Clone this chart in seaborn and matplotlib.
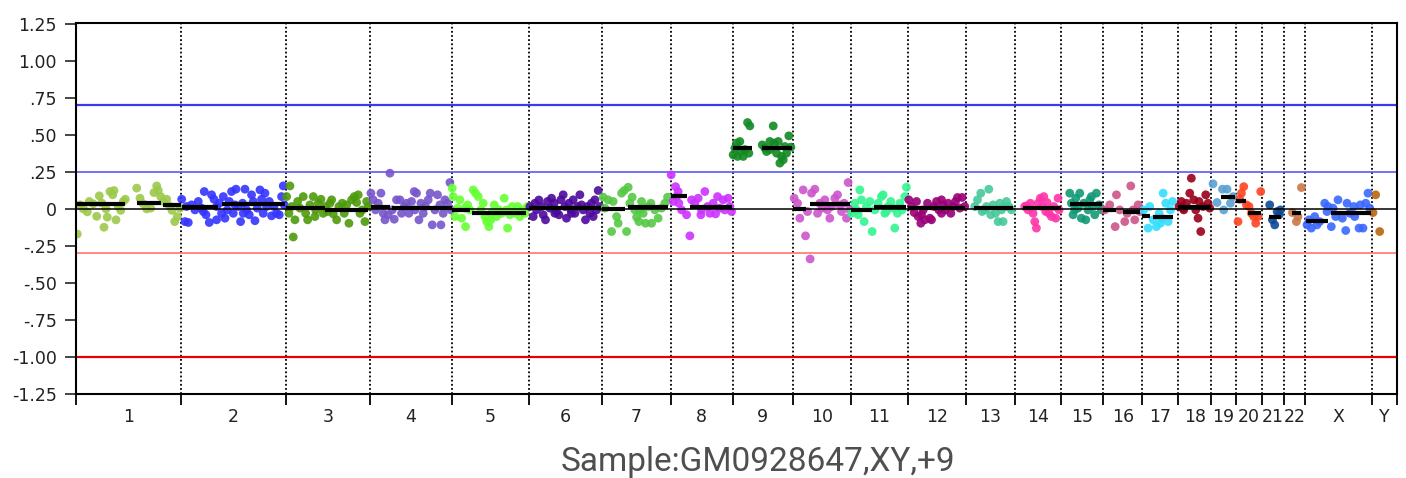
import numpy as np
import pandas as pd
import matplotlib
matplotlib.use("Agg")
import matplotlib.pyplot as plt
import seaborn as sns

# ---------------- data ----------------
chr_labels = ["1", "2", "3", "4", "5", "6", "7", "8", "9", "10", "11", "12",
              "13", "14", "15", "16", "17", "18", "19", "20", "21", "22", "X", "Y"]
chr_lengths = [105.3, 104.4, 84.6, 81.7, 77.3, 72.7, 69.0, 61.7, 60.3, 58.3, 56.4, 58.3,
               49.3, 46.0, 42.4, 39.0, 35.6, 33.4, 24.3, 26.7, 21.3, 21.3, 67.4, 24.6]
chr_colors = ["#9cc94a", "#3434ff", "#4d9a0a", "#7755cc", "#66ff33", "#4d0a9c", "#55c845", "#cc33ff",
              "#128a22", "#cc55cc", "#33f590", "#990077", "#47c99a", "#ff33aa", "#119977", "#cc5588",
              "#33ddff", "#99001a", "#58a2d2", "#ff4422", "#0c4a96", "#cc7744", "#3a68ff", "#b8660f"]

c1_pos = [1.3, 4, 7.3, 11.3, 13.3, 17.3, 20.7, 23.3, 25.7, 28, 30, 31.3, 34, 36.7, 38, 40, 42.3, 44.7, 47.3, 49.3,
          60.7, 64, 67.3, 70.7, 74.7, 78, 80.7, 82.3, 84.7, 87.3, 90.7, 93.3, 96, 98.7, 101.3, 104]
c1_val = [-0.17, 0.027, 0.0, -0.02, 0.05, 0.034, -0.05, 0.088, 0.04, -0.124, 0.0, -0.056, 0.117, 0.095, 0.124, -0.074,
          0.016, -0.01, 0.05, 0.065, 0.14, 0.072, 0.034, 0.0, 0.005, 0.11, 0.155, 0.124, 0.083, 0.05, 0.065, 0.02,
          -0.01, -0.086, -0.052, 0.005]
c2_pos = [0.4, 3.7, 7, 5.3, 10.3, 13.7, 17, 20.3, 23, 24.7, 28, 30.3, 32.7, 35.3, 38, 42, 43.7, 46, 48, 50.3, 52,
          54.7, 57, 59.3, 61.3, 63.7, 65.3, 68, 70.3, 72, 73.7, 76, 78.7, 80.3, 82, 85.3, 88, 90.3, 92.7, 95.3, 98,
          100.3, 102, 103, 22, 40.3, 62, 83.7, 53.7, 35.3]
c2_val = [0.065, -0.086, -0.092, 0.016, 0.027, -0.007, 0.05, 0.005, 0.117, -0.04, -0.092, 0.095, 0.065, 0.016,
          0.038, 0.083, -0.063, -0.007, 0.05, 0.117, -0.03, 0.133, 0.016, -0.086, 0.038, 0.133, -0.007, -0.04,
          0.095, 0.05, -0.08, 0.005, 0.128, 0.065, -0.03, 0.016, 0.05, -0.047, 0.016, -0.03, -0.04, 0.083, 0.155,
          0.027, -0.018, -0.03, -0.03, 0.106, 0.027, -0.074]
c3_pos = [1, 4.3, 3.3, 7.6, 9.3, 12, 14.3, 17.6, 20, 22, 24.3, 27.6, 30, 32.6, 35.3, 37.6, 40, 42, 44.3, 47.6, 51,
          53.3, 56.6, 58.6, 61, 63.3, 66, 68.6, 71, 72.6, 74.3, 76.6, 79.3, 81, 82.6, 6, 46, 29.3]
c3_val = [0.083, 0.155, -0.03, -0.19, -0.074, 0.05, 0.005, 0.083, -0.03, -0.074, 0.027, 0.083, -0.007, 0.038,
          0.065, -0.03, 0.016, -0.018, 0.038, -0.034, -0.074, 0.016, 0.038, -0.03, 0.027, -0.097, 0.061, 0.083,
          0.043, 0.095, -0.03, -0.007, -0.086, 0.05, 0.016, 0.016, 0.061, -0.052]
c4_pos = [0.7, 3, 5.3, 8, 10.7, 13, 14.7, 19.7, 22, 24, 26.3, 29.7, 31.3, 34, 36.3, 38.7, 41.3, 44, 46.3, 48.7,
          50.7, 53, 55.3, 58, 60, 62, 64.7, 67.3, 69.7, 70.7, 73, 74.7, 77.3, 79.7, 80.7, 18, 44.7]
c4_val = [0.106, 0.061, -0.007, 0.038, 0.106, -0.03, -0.074, 0.241, -0.007, -0.07, 0.061, 0.061, -0.03, 0.016,
          0.038, -0.03, 0.05, 0.117, 0.106, -0.074, 0.038, -0.03, 0.016, 0.061, 0.106, -0.108, -0.007, 0.095,
          0.027, -0.108, -0.03, 0.061, 0.038, 0.178, -0.007, -0.04, -0.007]
c5_pos = [0.3, 1.3, 3, 5.7, 8, 9.7, 13.7, 15.7, 18, 21.3, 23.7, 26.3, 29, 31.3, 33, 34.7, 37, 39.7, 42.3, 44.7,
          47, 49.7, 52.3, 54.7, 55.7, 58, 60.3, 63, 65.7, 68, 70.3, 73, 75.7, 13, 39]
c5_val = [0.14, 0.083, -0.052, 0.005, 0.061, -0.063, -0.12, 0.027, -0.007, 0.128, 0.106, 0.083, -0.007, 0.038,
          -0.052, -0.086, -0.12, -0.03, 0.027, -0.052, -0.007, -0.03, 0.072, -0.007, -0.13, -0.04, 0.016, -0.03,
          0.016, -0.052, -0.007, -0.03, 0.016, 0.005, -0.074]
c6_pos = [0.7, 4, 7.3, 9.7, 12.3, 14, 16.3, 18.3, 20.7, 22.3, 25, 27.3, 29.7, 31.7, 34, 35.7, 37.3, 39.7, 41.7,
          44, 45.7, 48.3, 50.7, 52.3, 54, 56.3, 58.3, 60.7, 62.3, 64, 65.7, 67.3, 69, 70.7, 5.7, 25.7, 42.3]
c6_val = [0.016, -0.052, -0.007, 0.06, 0.016, -0.04, -0.074, 0.05, 0.005, 0.072, 0.038, -0.018, -0.04, 0.061,
          0.095, 0.016, -0.063, 0.038, -0.007, 0.061, -0.03, 0.016, 0.095, 0.027, -0.007, -0.074, 0.016, -0.03,
          0.038, -0.052, 0.061, -0.007, 0.124, 0.016, 0.038, -0.03, -0.03]
c7_pos = [1.3, 3, 6.3, 9.7, 11.3, 14.7, 16.3, 19.7, 22.3, 24.7, 26.3, 28, 30.3, 33, 34.7, 37, 39.7, 41.3, 43.7,
          46.3, 49, 49.7, 53, 56.3, 59.7, 63, 65.7, 38]
c7_val = [0.079, 0.005, 0.061, -0.153, 0.05, -0.052, -0.097, 0.106, 0.124, -0.153, 0.146, 0.038, 0.079, -0.007,
          -0.056, -0.086, 0.05, -0.03, -0.097, 0.016, 0.038, -0.097, -0.007, -0.063, 0.005, 0.038, 0.079, -0.007]
c8_pos = [0.3, 2.3, 4.7, 7.3, 8, 10.7, 15.7, 19, 20.7, 24, 27.3, 30, 34, 36.7, 39, 42.3, 44.7, 46.7, 49, 52.3,
          54, 57.3, 59, 60.7, 5.7, 30.7]
c8_val = [0.23, 0.05, 0.15, 0.117, 0.038, -0.007, -0.04, -0.182, 0.061, 0.038, 0.072, -0.04, 0.117, 0.016, -0.03,
          0.038, -0.034, 0.083, 0.005, 0.061, -0.007, 0.072, 0.016, -0.018, 0.083, -0.007]
c9_pos = [0.6, 2.3, 5, 7.3, 8.3, 10.7, 12.3, 15, 17.3, 16.3, 29.7, 32.3, 34, 37.3, 40.7, 41.7, 44, 45.7, 47.3,
          49, 50.7, 52.3, 54, 56.3, 58.3, 4, 37.3]
c9_val = [0.365, 0.41, 0.354, 0.455, 0.387, 0.354, 0.40, 0.583, 0.56, 0.376, 0.432, 0.41, 0.387, 0.455, 0.56,
          0.444, 0.376, 0.455, 0.309, 0.354, 0.331, 0.421, 0.376, 0.493, 0.417, 0.444, 0.40]
c10_pos = [1.3, 4.7, 7, 10.3, 12.7, 14.7, 17.3, 18.7, 22, 24.7, 27, 29.3, 32, 34.7, 37, 38.7, 42, 44.7, 47,
           48.7, 51.3, 53.7, 55.3, 57]
c10_val = [0.072, 0.038, -0.063, 0.128, -0.182, -0.018, -0.338, 0.106, 0.133, -0.03, 0.038, 0.005, 0.061, -0.007,
           -0.063, 0.016, 0.072, 0.095, 0.027, -0.018, 0.038, -0.063, 0.178, -0.007]
c11_pos = [0.4, 3.7, 5.3, 8.7, 10.3, 13, 15.3, 18.7, 21, 23.7, 27, 30.3, 32, 33.7, 37, 39.7, 42, 43.7, 46.3,
           48.7, 51, 53.7, 55.3, 7, 35.3]
c11_val = [-0.03, 0.038, -0.007, 0.128, 0.061, -0.086, 0.016, 0.05, -0.153, -0.007, 0.038, 0.083, 0.095, -0.03,
           0.016, 0.05, 0.005, -0.13, -0.03, 0.038, -0.007, 0.083, 0.146, -0.04, -0.018]
c12_pos = [1.3, 4, 6.7, 9, 10.7, 13.3, 15.7, 17.3, 20, 22.3, 24, 26.7, 29, 31.3, 34, 35.7, 38, 40.7, 43.3, 45.7,
           48, 50, 52.3, 54.7, 57.3, 14, 34]
c12_val = [0.061, 0.016, -0.025, 0.05, -0.052, -0.097, -0.007, -0.074, 0.038, -0.063, -0.074, 0.016, 0.05,
           -0.007, -0.03, 0.027, -0.007, 0.038, -0.03, 0.016, 0.05, 0.077, 0.005, 0.077, 0.016, -0.04, 0.061]
c13_pos = [9, 11.7, 15, 16.3, 19, 20.7, 23, 25, 27.3, 29.7, 32.3, 34, 35.7, 37.3, 39, 40.7, 43, 45.7]
c13_val = [0.016, 0.061, 0.106, -0.018, -0.007, 0.016, 0.133, -0.04, 0.027, -0.03, -0.086, 0.038, -0.007, -0.086,
           0.016, 0.05, 0.016, -0.007]
c14_pos = [9.7, 13, 15.3, 18, 19.7, 21.3, 23, 25.3, 27.3, 28.7, 30.7, 32, 34, 36.3, 38.7, 40.7, 43, 44, 11.3]
c14_val = [0.016, -0.007, 0.038, -0.03, -0.086, -0.13, 0.038, 0.072, 0.016, 0.083, -0.018, 0.043, -0.03, -0.052,
           0.016, -0.063, 0.072, -0.007, 0.02]
c15_pos = [8.7, 10.3, 12, 14.7, 17, 18.7, 20.3, 22.7, 24.7, 27, 28.7, 31.3, 33.7, 35.3, 38, 40.3, 13.7, 30.3]
c15_val = [0.106, 0.038, -0.04, 0.072, 0.005, 0.106, -0.063, 0.038, -0.074, -0.007, 0.061, 0.016, -0.04, 0.106,
           0.027, -0.007, -0.007, 0.083]
c16_pos = [1.3, 6.3, 11.7, 13, 16.3, 21.3, 23.7, 27.3, 29.7, 31.3, 34.7, 36.3]
c16_val = [-0.007, 0.027, -0.12, 0.095, -0.007, -0.086, -0.03, 0.155, -0.007, -0.074, 0.027, -0.018]
c17_pos = [1.3, 5.7, 7.3, 10.7, 14, 16.7, 19, 20.7, 23.3, 25.7, 28, 30, 18]
c17_val = [-0.007, -0.13, 0.016, -0.074, -0.12, -0.03, -0.063, 0.106, 0.038, -0.086, -0.007, 0.05, -0.097]
c18_pos = [1, 3.3, 5.7, 8.3, 11.7, 13.3, 15.7, 17.7, 20, 21, 22.7, 25, 27.7, 30, 31.7, 5]
c18_val = [0.016, 0.05, -0.007, 0.038, 0.106, 0.207, 0.061, -0.007, -0.063, 0.05, -0.153, 0.016, 0.095, 0.038,
           0.005, 0.005]
c19_pos = [1.6, 5.6, 11, 12.3, 15.6, 19, 21.6]
c19_val = [0.169, 0.043, 0.133, -0.007, 0.133, 0.038, 0.083]
c20_pos = [2.3, 5.7, 8, 10.7, 13.3, 15.7, 18, 20, 22.3, 25, 4]
c20_val = [-0.086, 0.106, 0.15, 0.027, 0.016, -0.03, -0.052, -0.097, -0.052, 0.117, 0.065]
c21_pos = [7.3, 10, 12.3, 14.7, 16.7, 18]
c21_val = [0.027, -0.074, -0.108, -0.018, -0.04, -0.007]
c22_pos = [8.7, 12.7, 14.3, 17.7]
c22_val = [-0.025, -0.086, -0.052, 0.144]
cX_pos = [2, 4, 6.3, 9.7, 12, 14.7, 19.7, 22, 26.3, 28, 30.7, 33, 37.3, 40.7, 42, 44.7, 48.7, 49.7, 54, 55.3,
          58, 60.7, 63, 64.7, 23]
cX_val = [-0.108, -0.074, -0.13, -0.052, -0.108, -0.086, 0.038, -0.018, -0.12, 0.005, -0.052, 0.061, -0.063,
          -0.146, 0.038, -0.03, 0.016, -0.052, -0.13, 0.027, -0.13, 0.038, 0.106, 0.005, 0.016]
cY_pos = [3.3, 0.6, 7.3]
cY_val = [0.095, -0.025, -0.153]

# segment means: chromosome label, start offset, end offset, value
seg_chrom = ["1", "1", "1", "2", "2", "3", "3", "4", "4", "5", "5", "6", "7", "7", "8", "8", "9", "9",
             "10", "10", "11", "11", "12", "13", "14", "15", "16", "16", "17", "17", "18", "19", "20", "20",
             "21", "22", "X", "X"]
seg_start = [0, 60.7, 86.7, 0.7, 40.3, 0, 39.3, 0.7, 21.3, 0, 20.3, 0, 0, 26.3, 0, 19, 0, 29.7,
             0, 17, 0, 23, 0, 8.3, 8, 8.7, 0, 19.7, 0, 10.7, 0, 10, 0, 12.3,
             6.6, 8.7, 0.7, 26.3]
seg_end = [49, 84.7, 105, 37, 104, 39.3, 82.6, 19.7, 81.3, 18, 73.7, 72.3, 23, 66.3, 16.3, 60.7, 19, 59,
           12.7, 57, 21, 55.3, 58, 47.3, 46, 41.3, 12.3, 37, 7.3, 30.7, 33.4, 23.3, 10, 25.7,
           19, 17.7, 23, 66.3]
seg_val = [0.032, 0.043, 0.027, 0.011, 0.032, 0.009, -0.011, 0.016, 0.005, -0.007, -0.03, 0.007, 0.002, 0.016,
           0.088, 0.016, 0.41, 0.414, 0.0, 0.03, -0.011, 0.014, 0.005, 0.005, 0.005, 0.032, -0.007, -0.018,
           -0.047, -0.056, 0.014, 0.079, 0.056, -0.03, -0.056, -0.03, -0.079, -0.03]

y_ticks = [1.25, 1.00, 0.75, 0.50, 0.25, 0, -0.25, -0.50, -0.75, -1.00, -1.25]
y_ticklabels = ["1.25", "1.00", ".75", ".50", ".25", "0", "-.25", "-.50", "-.75", "-1.00", "-1.25"]
thresholds = [0.70, 0.25, -0.30, -1.00]
threshold_colors = ["#3a3af2", "#5a5af8", "#ff7474", "#e80000"]
title_text = "Sample:GM0928647,XY,+9"

# ---------------- build table ----------------
pos_lists = [c1_pos, c2_pos, c3_pos, c4_pos, c5_pos, c6_pos, c7_pos, c8_pos, c9_pos, c10_pos, c11_pos, c12_pos,
             c13_pos, c14_pos, c15_pos, c16_pos, c17_pos, c18_pos, c19_pos, c20_pos, c21_pos, c22_pos, cX_pos, cY_pos]
val_lists = [c1_val, c2_val, c3_val, c4_val, c5_val, c6_val, c7_val, c8_val, c9_val, c10_val, c11_val, c12_val,
             c13_val, c14_val, c15_val, c16_val, c17_val, c18_val, c19_val, c20_val, c21_val, c22_val, cX_val, cY_val]

bounds = np.concatenate([[0.0], np.cumsum(chr_lengths)])
starts = dict(zip(chr_labels, bounds[:-1]))
centers = (bounds[:-1] + bounds[1:]) / 2

rows = []
for lab, ps, vs in zip(chr_labels, pos_lists, val_lists):
    for p, v in zip(ps, vs):
        rows.append((lab, starts[lab] + p, v))
df = pd.DataFrame(rows, columns=["chrom", "pos", "ratio"])

# ---------------- plot ----------------
sns.set_style("ticks")
plt.rcParams["font.family"] = ["DejaVu Sans"]
plt.rcParams["font.size"] = 12.5
plt.rcParams["xtick.labelsize"] = 12.5
plt.rcParams["ytick.labelsize"] = 12.5

fig = plt.figure(figsize=(14.06, 4.78), dpi=100)
ax = fig.add_axes([76 / 1406, 1 - 394 / 478, (1397 - 76) / 1406, (394 - 23) / 478])

# dotted chromosome separators
for b in bounds[1:-1]:
    ax.axvline(b, color="black", lw=1.3, ls=(0, (1, 1.3)), zorder=1)

for t, c in zip(thresholds, threshold_colors):
    ax.axhline(t, color=c, lw=1.6 if abs(t) > 0.5 else 1.2, zorder=1)

sns.scatterplot(data=df, x="pos", y="ratio", hue="chrom", hue_order=chr_labels,
                palette=chr_colors, s=40, linewidth=0, alpha=0.9, legend=False, ax=ax, zorder=2)

ax.axhline(0, color="black", lw=1.1, zorder=3)

seg_x0 = [starts[c] + s for c, s in zip(seg_chrom, seg_start)]
seg_x1 = [starts[c] + e for c, e in zip(seg_chrom, seg_end)]
ax.hlines(seg_val, seg_x0, seg_x1, color="black", lw=3, zorder=4)

ax.set_xlim(bounds[0], bounds[-1])
ax.set_ylim(-1.25, 1.255)
ax.set_yticks(y_ticks)
ax.set_yticklabels(y_ticklabels)
ax.set_xticks(bounds)
ax.set_xticklabels([])
ax.set_xticks(centers, minor=True)
ax.set_xticklabels(chr_labels, minor=True)
ax.tick_params(axis="x", which="major", length=8, width=1.3, direction="out", color="black")
ax.tick_params(axis="x", which="minor", length=0, pad=10, labelsize=12.5, labelcolor="#222222")
ax.tick_params(axis="y", which="major", length=8, width=1.2, pad=6, labelsize=12.5, labelcolor="#222222")
ax.set_xlabel("")
ax.set_ylabel("")
for sp in ax.spines.values():
    sp.set_visible(True)
    sp.set_color("black")
    sp.set_linewidth(1.5)

fig.text(758 / 1406, 1 - 471 / 478, title_text, ha="center", va="baseline",
         fontsize=24, color="#4f4f4f", family=["Roboto", "DejaVu Sans"])

fig.savefig("out.png", dpi=100)
